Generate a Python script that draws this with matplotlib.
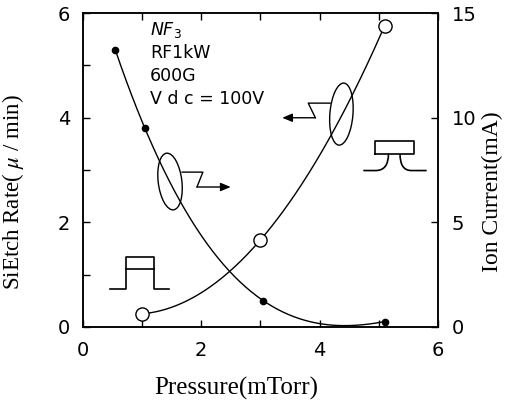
""" Si etch rate and ion current vs pressure

"""

import numpy as np
import matplotlib
matplotlib.use("Agg")
import matplotlib.pyplot as plt
from matplotlib.patches import Ellipse, FancyArrowPatch, PathPatch
from matplotlib.path import Path
from matplotlib.ticker import MultipleLocator


# --------------------------------------------------
#   Data
# --------------------------------------------------

etch_pressure = [0.55, 1.05, 3.05, 5.1]
etch_rate = [5.3, 3.8, 0.5, 0.1]

ion_pressure = [1.0, 3.0, 5.1]
ion_current = [0.62, 4.15, 14.4]

conditions = ["NF$_3$", "RF1kW", "600G", "V d c = 100V"]

SANS = "DejaVu Sans"
SERIF = "Liberation Serif"

plt.rcParams["mathtext.fontset"] = "stix"


# --------------------------------------------------
#   Figure
# --------------------------------------------------

fig = plt.figure(figsize=(5.17, 4.01), dpi=100)
ax = fig.add_axes([0.160, 0.185, 0.687, 0.782])
ax2 = ax.twinx()

# smooth hand-drawn style curves through the measured points
etch_fit = np.polyfit(etch_pressure, etch_rate, len(etch_pressure) - 1)
xs = np.linspace(etch_pressure[0], etch_pressure[-1], 200)
ax.plot(xs, np.polyval(etch_fit, xs), color="black", lw=1.0)
ax.plot(etch_pressure, etch_rate, "o", color="black", ms=4.5)

ion_fit = np.polyfit(ion_pressure, ion_current, len(ion_pressure) - 1)
xs = np.linspace(ion_pressure[0], ion_pressure[-1], 200)
ax2.plot(xs, np.polyval(ion_fit, xs), color="black", lw=1.0)
ax2.plot(ion_pressure, ion_current, "o", mfc="white", mec="black",
         mew=1.0, ms=9.5, zorder=3)

ax.set_xlim(0, 6)
ax.set_ylim(0, 6)
ax2.set_ylim(0, 15)

ax.xaxis.set_major_locator(MultipleLocator(2))
ax.xaxis.set_minor_locator(MultipleLocator(1))
ax.yaxis.set_major_locator(MultipleLocator(2))
ax.yaxis.set_minor_locator(MultipleLocator(1))
ax2.yaxis.set_major_locator(MultipleLocator(5))

for a in (ax, ax2):
    for s in a.spines.values():
        s.set_linewidth(1.1)
ax.tick_params(which="both", direction="in", length=5, width=1.0,
               top=True, right=False, labelsize=14)
ax.tick_params(axis="x", pad=10)
ax.tick_params(axis="y", pad=9)
ax2.tick_params(direction="in", length=5, width=1.0, labelsize=14, pad=10)
for lab in ax.get_xticklabels() + ax.get_yticklabels() + ax2.get_yticklabels():
    lab.set_fontfamily(SANS)

ax.set_xlabel("Pressure(mTorr)", family=SERIF, fontsize=18)
ax.set_ylabel("SiEtch Rate( $\\mu$ / min)", family=SERIF, fontsize=16.5)
ax2.set_ylabel("Ion Current(mA)", family=SERIF, fontsize=17, rotation=90)
ax.xaxis.set_label_coords(0.433, -0.16)
ax.yaxis.set_label_coords(-0.16, 0.43)
ax2.yaxis.set_label_coords(1.125, 0.43)

# condition notes
for i, txt in enumerate(conditions):
    ax.text(1.14, 5.58 - i * 0.44, txt, family=SANS, fontsize=12.5,
            va="baseline", ha="left", math_fontfamily="dejavusans",
            style="italic" if i == 0 else "normal")

# --------------------------------------------------
#   Sketch annotations
# --------------------------------------------------

# loop + arrow: etch curve -> right axis
ax.add_patch(Ellipse((1.475, 2.78), 0.40, 1.09, angle=6, fill=False,
                     lw=1.0, color="black"))
ax.plot([1.68, 2.03, 1.93], [2.96, 2.96, 2.675], color="black", lw=1.0)
ax.add_patch(FancyArrowPatch((1.93, 2.675), (2.50, 2.675),
                             arrowstyle="-|>,head_length=6,head_width=2.5",
                             color="black", lw=1.0, shrinkA=0, shrinkB=0))

# loop + arrow: ion curve -> left axis
ax.add_patch(Ellipse((4.37, 4.07), 0.39, 1.19, angle=-4, fill=False,
                     lw=1.0, color="black"))
ax.plot([4.18, 3.81, 3.93], [4.28, 4.28, 4.0], color="black", lw=1.0)
ax.add_patch(FancyArrowPatch((3.93, 4.0), (3.37, 4.0),
                             arrowstyle="-|>,head_length=6,head_width=2.5",
                             color="black", lw=1.0, shrinkA=0, shrinkB=0))

# magnet sketch, lower left
ax.plot([0.46, 0.73, 0.73, 1.21, 1.21, 1.46],
        [0.72, 0.72, 1.34, 1.34, 0.72, 0.72], color="black", lw=1.2)
ax.plot([0.73, 1.21], [1.10, 1.10], color="black", lw=1.2)

# magnet sketch, right
ax.plot([4.94, 5.60, 5.60, 4.94, 4.94],
        [3.31, 3.31, 3.56, 3.56, 3.31], color="black", lw=1.2)
legs = Path([(5.165, 3.31), (5.165, 2.99), (4.95, 2.99), (4.74, 2.99),
             (5.36, 3.31), (5.36, 2.99), (5.55, 2.99), (5.81, 2.99)],
            [Path.MOVETO, Path.CURVE3, Path.CURVE3, Path.LINETO,
             Path.MOVETO, Path.CURVE3, Path.CURVE3, Path.LINETO])
ax.add_patch(PathPatch(legs, fill=False, lw=1.2, color="black"))

fig.savefig("out.png", dpi=100)
